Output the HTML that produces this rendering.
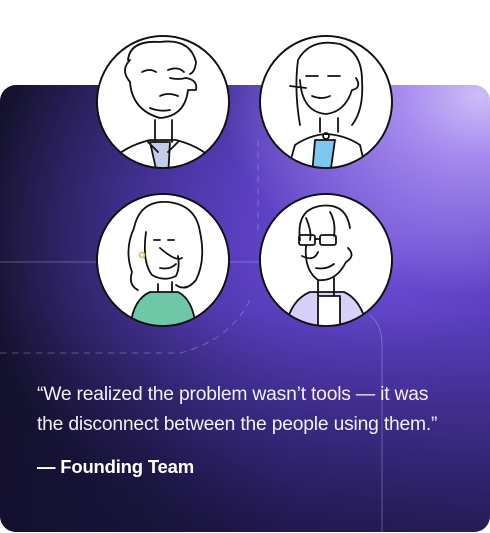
<!DOCTYPE html>
<html><head><style>
html,body{margin:0;padding:0;background:#fff;width:490px;height:533px;overflow:hidden;position:relative}
.card{position:absolute;left:0;top:85px;width:490px;height:447px;border-radius:16px;overflow:hidden;
background:
radial-gradient(ellipse 260px 200px at 480px 10px,#cdbdf7 0%,#a78cf0 30%,rgba(120,90,220,0) 100%),
radial-gradient(ellipse 420px 330px at 390px 150px,#6f50d8 0%,#5a3fc0 35%,rgba(50,35,120,0) 100%),
linear-gradient(90deg,#13112a 0%,#1e1a4a 30%,#3a2c90 60%,#4a36a8 100%);}
.card:after{content:"";position:absolute;inset:0;background:linear-gradient(180deg,rgba(0,0,0,0) 50%,rgba(20,16,50,.7) 100%)}
.q{position:absolute;left:37px;top:380px;font:19.3px/30px "Liberation Sans",sans-serif;color:#f2f0fa;z-index:2;letter-spacing:-0.2px;white-space:nowrap}
.a{position:absolute;left:37px;top:456px;font:bold 18.5px "Liberation Sans",sans-serif;color:#fff;z-index:2;letter-spacing:-0.2px}
svg{position:absolute;left:0;top:0;z-index:1}
</style></head><body>
<div class="card"></div>
<svg width="490" height="533" viewBox="0 0 490 533" fill="none" stroke="#111" stroke-width="1.8" stroke-linecap="round" stroke-linejoin="round">
<g stroke="rgba(200,200,240,0.35)" stroke-width="1">
<line x1="0" y1="262" x2="260" y2="262"/>
<path d="M0 353 H180 Q230 340 250 300" stroke-dasharray="6 6"/>
<path d="M258 140 V230" stroke-dasharray="6 6"/>
<path d="M370 315 Q382 325 382 345 V533"/>
</g>
<defs>
<clipPath id="c1"><circle cx="163" cy="102" r="66"/></clipPath>
<clipPath id="c2"><circle cx="326" cy="102" r="66"/></clipPath>
<clipPath id="c3"><circle cx="163" cy="260" r="66"/></clipPath>
<clipPath id="c4"><circle cx="326" cy="260" r="66"/></clipPath>
</defs>
<circle cx="163" cy="102" r="66" fill="#fff"/>
<g clip-path="url(#c1)">
<path d="M100 180 Q110 150 150 140 L176 140 Q215 150 225 180 Z" fill="#fff"/>
<path d="M150 142 L158 178 L168 178 L170 142 Z" fill="#c3cde8"/>
<path d="M155 120 V142 M172 120 V142 M148 142 L158 152 M178 142 L168 152"/>
<path d="M128 60 Q130 40 160 42 Q190 38 196 62 Q195 72 190 74 M130 60 Q120 70 130 82 Q132 110 160 118 Q185 116 188 90 L196 90 Q198 80 186 78"/>
<path d="M142 72 Q150 68 156 72 M168 70 Q178 66 184 72 M170 78 Q178 80 186 78"/>
<path d="M160 96 Q168 92 178 96 M150 108 Q160 112 170 110"/>
</g>
<circle cx="163" cy="102" r="66"/>
<circle cx="326" cy="102" r="66" fill="#fff"/>
<g clip-path="url(#c2)">
<path d="M285 180 L295 145 Q310 135 326 134 Q345 135 360 145 L368 180 Z" fill="#fff"/>
<path d="M315 140 L312 175 L330 175 L335 140 Z" fill="#7ec7f0"/>
<path d="M298 60 Q310 38 340 44 Q362 52 362 80 Q364 110 352 125 M298 60 Q294 90 300 125"/>
<path d="M300 80 Q302 112 326 114 Q345 112 352 90 Q362 88 356 78 M320 118 V132 M338 118 V132"/>
<path d="M306 76 L318 76 M328 76 L340 76 M290 86 L306 88 M312 96 Q322 100 330 96"/>
<circle cx="326" cy="136" r="3"/>
</g>
<circle cx="326" cy="102" r="66"/>
<circle cx="163" cy="260" r="66" fill="#fff"/>
<g clip-path="url(#c3)">
<path d="M130 330 Q132 300 150 292 L178 292 Q194 300 196 330 Z" fill="#6ec8a8"/>
<path d="M134 228 Q140 200 168 202 Q196 205 200 232 Q206 260 196 280 Q186 292 176 285 M134 228 Q124 250 132 272 Q128 285 138 290"/>
<path d="M146 232 Q142 262 152 275 Q164 282 176 276 Q180 268 178 256 M158 284 V292 M172 282 V292"/>
<path d="M154 240 L160 240 M168 240 L174 240 M160 248 Q176 262 182 258 M160 268 Q170 270 176 264"/>
<circle cx="142" cy="255" r="2.5" stroke="#e0c060"/>
</g>
<circle cx="163" cy="260" r="66"/>
<circle cx="326" cy="260" r="66" fill="#fff"/>
<g clip-path="url(#c4)">
<path d="M285 330 Q290 300 310 292 L344 292 Q362 300 368 330 Z" fill="#d8d0fa"/>
<path d="M318 296 L318 330 L340 330 L340 296 Z" fill="#fff"/>
<path d="M300 240 Q296 210 320 206 Q346 202 350 228 M306 218 Q312 232 310 240 M330 212 Q336 222 334 236"/>
<path d="M306 246 Q304 270 318 280 Q336 282 346 262 Q356 256 348 248 M318 280 V296 M334 278 V296"/>
<rect x="299" y="235" width="16" height="10" rx="2"/><rect x="320" y="235" width="16" height="10" rx="2"/>
<path d="M315 239 H320 M302 256 Q314 262 318 252 M316 268 Q326 270 334 264"/>
</g>
<circle cx="326" cy="260" r="66"/>
</svg>
<div class="q">“We realized the problem wasn’t tools — it was<br>the disconnect between the people using them.”</div>
<div class="a">— Founding Team</div>
</body></html>
